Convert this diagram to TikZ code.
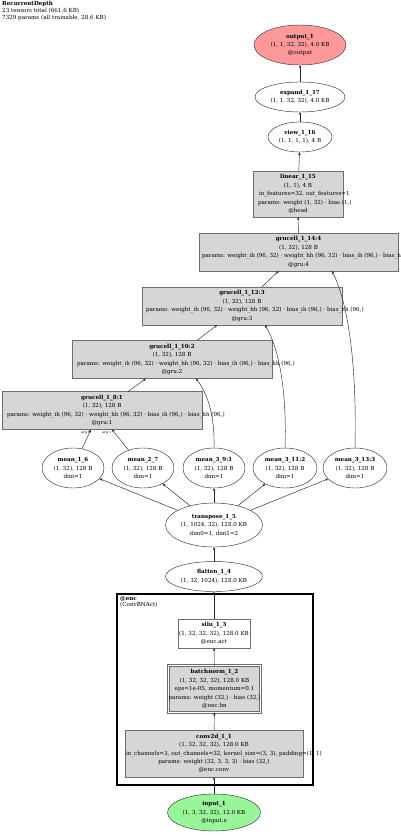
\documentclass[tikz,border=0pt]{standalone}
\usepackage{fontspec}
\setmainfont{DejaVu Serif}
\usetikzlibrary{shapes.geometric,arrows.meta,calc}
\definecolor{boxfill}{HTML}{D6D6D6}
\definecolor{boxdraw}{HTML}{6E6E6E}
\definecolor{outfill}{HTML}{FF9999}
\definecolor{infill}{HTML}{99F599}
\newcommand{\ovfline}[2]{\makebox[#1][l]{#2}}
\begin{document}
\begin{tikzpicture}[x=1pt,y=-1pt,
  txt/.style={font=\fontsize{5.6}{8.4}\selectfont, align=center, inner sep=0pt, outer sep=0pt},
  ell/.style={txt, ellipse, draw=black!80, line width=0.45pt, fill=white},
  box/.style={txt, rectangle, draw=boxdraw, line width=0.6pt, fill=boxfill},
  wbox/.style={txt, rectangle, draw=boxdraw, line width=0.6pt, fill=white},
  arr/.style={draw=black!85, line width=0.45pt, -{Stealth[length=3pt,width=2.4pt]}},
  lbl/.style={font=\fontsize{3.3}{4}\selectfont, inner sep=0pt}
]
\useasboundingbox (0,0) rectangle (400,836);

% header
\node[anchor=north west, align=left, font=\fontsize{5.6}{6.8}\selectfont, inner sep=0pt] (hdr) at (2,1)
  {\textbf{RecurrentDepth}\\23 tensors total (661.6 KB)\\7329 params (all trainable, 28.6 KB)};

% top chain
\node[ell, fill=outfill, minimum width=92pt, minimum height=40pt] (out) at (300,45)
  {\textbf{output\_1}\\(1, 1, 32, 32), 4.0 KB\\@output};
\node[ell, minimum width=90pt, minimum height=30pt] (exp) at (300,97)
  {\textbf{expand\_1\_17}\\(1, 1, 32, 32), 4.0 KB};
\node[ell, minimum width=64pt, minimum height=30pt] (view) at (300,137)
  {\textbf{view\_1\_16}\\(1, 1, 1, 1), 4 B};
\node[box, minimum width=90pt, minimum height=46pt] (lin) at (298,194)
  {\textbf{linear\_1\_15}\\(1, 1), 4 B\\\ovfline{78pt}{in\_features=32, out\_features=1}\\\ovfline{80pt}{params: weight (1, 32) · bias (1,)}\\@head};

% gru cells
\node[box, minimum width=199pt, minimum height=38pt] (g14) at (298.5,252)
  {\textbf{grucell\_1\_14:4}\\(1, 32), 128 B\\\ovfline{193pt}{params: weight\_ih (96, 32) · weight\_hh (96, 32) · bias\_ih (96,) · bias\_hh (96,)}\\@gru:4};
\node[box, minimum width=200pt, minimum height=38pt] (g12) at (242,306)
  {\textbf{grucell\_1\_12:3}\\(1, 32), 128 B\\\ovfline{192pt}{params: weight\_ih (96, 32) · weight\_hh (96, 32) · bias\_ih (96,) · bias\_hh (96,)}\\@gru:3};
\node[box, minimum width=200pt, minimum height=38pt] (g10) at (172,359.5)
  {\textbf{grucell\_1\_10:2}\\(1, 32), 128 B\\\ovfline{190pt}{params: weight\_ih (96, 32) · weight\_hh (96, 32) · bias\_ih (96,) · bias\_hh (96,)}\\@gru:2};
\node[box, minimum width=200pt, minimum height=38pt] (g8) at (102,410.5)
  {\textbf{grucell\_1\_8:1}\\(1, 32), 128 B\\\ovfline{190pt}{params: weight\_ih (96, 32) · weight\_hh (96, 32) · bias\_ih (96,) · bias\_hh (96,)}\\@gru:1};

% means
\node[ell, minimum width=62pt, minimum height=40pt] (m6) at (73,468)
  {\textbf{mean\_1\_6}\\(1, 32), 128 B\\dim=1};
\node[ell, minimum width=62pt, minimum height=40pt] (m7) at (143,468)
  {\textbf{mean\_2\_7}\\(1, 32), 128 B\\dim=1};
\node[ell, minimum width=62pt, minimum height=40pt] (m9) at (214,468)
  {\textbf{mean\_3\_9:1}\\(1, 32), 128 B\\dim=1};
\node[ell, minimum width=64pt, minimum height=40pt] (m11) at (285,468)
  {\textbf{mean\_3\_11:2}\\(1, 32), 128 B\\dim=1};
\node[ell, minimum width=64pt, minimum height=40pt] (m13) at (355,468)
  {\textbf{mean\_3\_13:3}\\(1, 32), 128 B\\dim=1};

\node[ell, minimum width=97pt, minimum height=44pt] (tr) at (214,525)
  {\textbf{transpose\_1\_5}\\(1, 1024, 32), 128.0 KB\\dim0=1, dim1=2};
\node[ell, minimum width=97pt, minimum height=30pt] (fl) at (214,576.5)
  {\textbf{flatten\_1\_4}\\(1, 32, 1024), 128.0 KB};

% cluster
\draw[line width=2.4pt, black] (117,594) rectangle (313,785);
\node[anchor=north west, align=left, font=\fontsize{5.6}{6.6}\selectfont, inner sep=0pt] (enclbl) at (120,596)
  {\textbf{@enc}\\(ConvBNAct)};

\node[wbox, minimum width=72pt, minimum height=29pt] (silu) at (214,633.5)
  {\textbf{silu\_1\_3}\\(1, 32, 32, 32), 128.0 KB\\@enc.act};
\node[box, double=white, double distance=1.4pt, minimum width=90pt, minimum height=47pt] (bn) at (214.5,689)
  {\textbf{batchnorm\_1\_2}\\(1, 32, 32, 32), 128.0 KB\\eps=1e-05, momentum=0.1\\params: weight (32,) · bias (32,)\\@enc.bn};
\node[box, minimum width=178pt, minimum height=47pt] (conv) at (214,753.5)
  {\textbf{conv2d\_1\_1}\\(1, 32, 32, 32), 128.0 KB\\\ovfline{176pt}{in\_channels=3, out\_channels=32, kernel\_size=(3, 3), padding=(1, 1)}\\params: weight (32, 3, 3, 3) · bias (32,)\\@enc.conv};

\node[ell, fill=infill, minimum width=93pt, minimum height=37pt] (inp) at (214,812.5)
  {\textbf{input\_1}\\(1, 3, 32, 32), 12.0 KB\\@input.x};

% connectors
\coordinate (a0) at ($(g8.south)+(-11,0)$);
\coordinate (a1) at ($(g8.south)+(10,0)$);
\coordinate (c10) at ($(g10.south)+(24,0)$);
\coordinate (c12) at ($(g12.south)+(23,0)$);
\coordinate (c14) at ($(g14.south)+(33.5,0)$);

\draw[arr] (inp) -- (conv);
\draw[arr] (conv) -- (bn);
\draw[arr] (bn) -- (silu);
\draw[arr] (silu) -- (fl);
\draw[arr] (fl) -- (tr);
\draw[arr] (tr) -- (m6);
\draw[arr] (tr) -- (m7);
\draw[arr] (tr) -- (m9);
\draw[arr] (tr) -- (m11);
\draw[arr] (tr) -- (m13);
\draw[arr] (m6) -- (a0);
\draw[arr] (m7) -- (a1);
\node[lbl, anchor=north east] (l0) at ($(a0)+(-0.5,1)$) {arg 0};
\node[lbl, anchor=north east] (l1) at ($(a1)+(-0.5,1)$) {arg 1};
\draw[arr] (g8) -- (g10);
\draw[arr] (g10) -- (g12);
\draw[arr] (g12) -- (g14);
\draw[arr] (m9.north) .. controls +(1,-38) and +(9,12) .. (c10);
\draw[arr] (m11.north) .. controls +(2,-62) and +(13,22) .. (c12);
\draw[arr] (m13.north) .. controls +(2,-90) and +(15,30) .. (c14);
\draw[arr] (g14) -- (lin);
\draw[arr] (lin) -- (view);
\draw[arr] (view) -- (exp);
\draw[arr] (exp) -- (out);
\end{tikzpicture}
\end{document}
